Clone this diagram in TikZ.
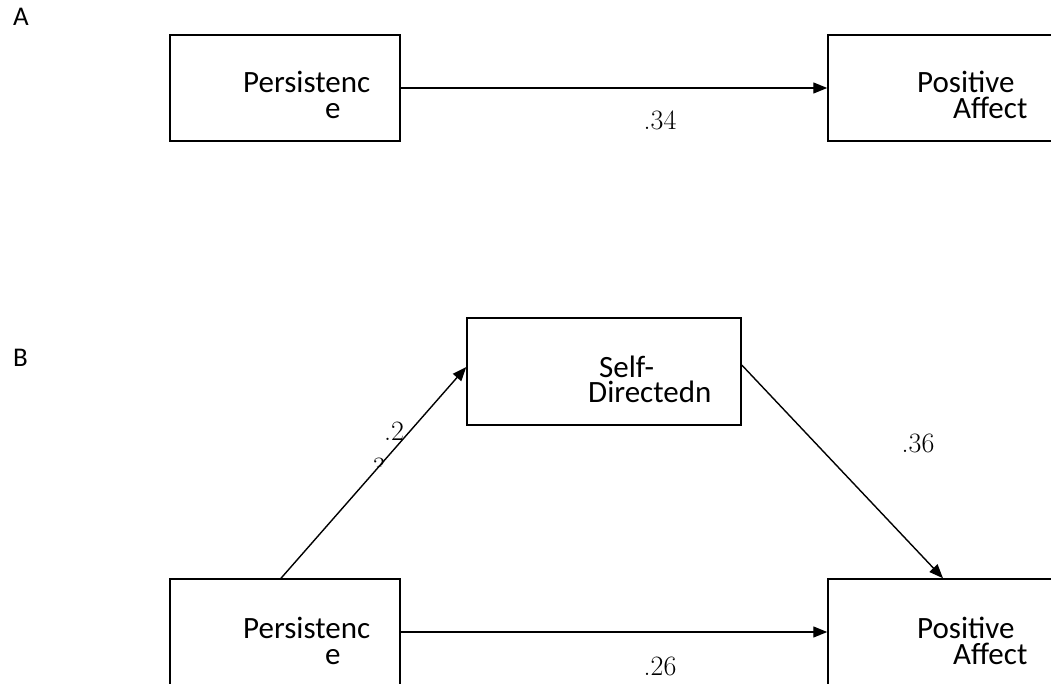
\documentclass[tikz,border=0pt]{standalone}
\usepackage{fontspec}
\setmainfont{Carlito}
\newfontfamily\numfont{Latin Modern Roman}
\usetikzlibrary{arrows.meta,calc}
\tikzset{
  box/.style={draw, line width=1.5pt, minimum width=230pt, minimum height=106pt, inner sep=0pt},
  boxtext/.style={anchor=base west, inner sep=0pt, font=\fontsize{31}{31}\selectfont},
  coef/.style={anchor=base, inner sep=0pt, font=\numfont\fontsize{28}{28}\selectfont},
  panel/.style={anchor=base west, inner sep=0pt, font=\fontsize{27}{27}\selectfont},
  conn/.style={line width=1.4pt, -{Triangle[length=14pt,width=11pt]}}
}
\begin{document}
\begin{tikzpicture}[x=1pt,y=-1pt]
\useasboundingbox (0,0) rectangle (1051,684);
\clip (0,0) rectangle (1051,684);
% Panel labels
\node[panel] (labA) at (13,26) {A};
\node[panel] (labB) at (13,366) {B};
% Panel A
\node[box] (AL) at (285,88) {};
\node[box] (AR) at (943,88) {};
\node[boxtext] (ALt1) at (243,93) {Persistenc};
\node[boxtext] (ALt2) at (325,119) {e};
\node[boxtext] (ARt1) at (917,93) {Positive};
\node[boxtext] (ARt2) at (953,119) {Affect};
\draw[conn] (AL.east) -- (AR.west);
\node[coef] (cA) at (660,130) {.34};
% Panel B
\node[box, minimum width=274pt, minimum height=107pt] (SD) at (604,371.5) {};
\node[box] (BL) at (285,632) {};
\node[box] (BR) at (943,632) {};
\node[boxtext] (SDt1) at (599,377) {Self-};
\node[boxtext] (SDt2) at (588,402) {Directedn};
\node[boxtext] (BLt1) at (243,638) {Persistenc};
\node[boxtext] (BLt2) at (325,664) {e};
\node[boxtext] (BRt1) at (917,638) {Positive};
\node[boxtext] (BRt2) at (953,664) {Affect};
\draw[conn] ($(BL.north)+(-4,0)$) -- ($(SD.west)+(0,-4.5)$);
\draw[conn] ($(SD.east)+(0,-6.5)$) -- (BR.north);
\draw[conn] (BL.east) -- (BR.west);
\node[coef] (cB1) at (394,440) {.2};
\begin{scope}
\clip (360,450) rectangle (400,466);
\node[coef] (cB1b) at (379,476) {3};
\end{scope}
\node[coef] (cB2) at (918,452) {.36};
\node[coef] (cB3) at (660,675) {.26};
\end{tikzpicture}
\end{document}
